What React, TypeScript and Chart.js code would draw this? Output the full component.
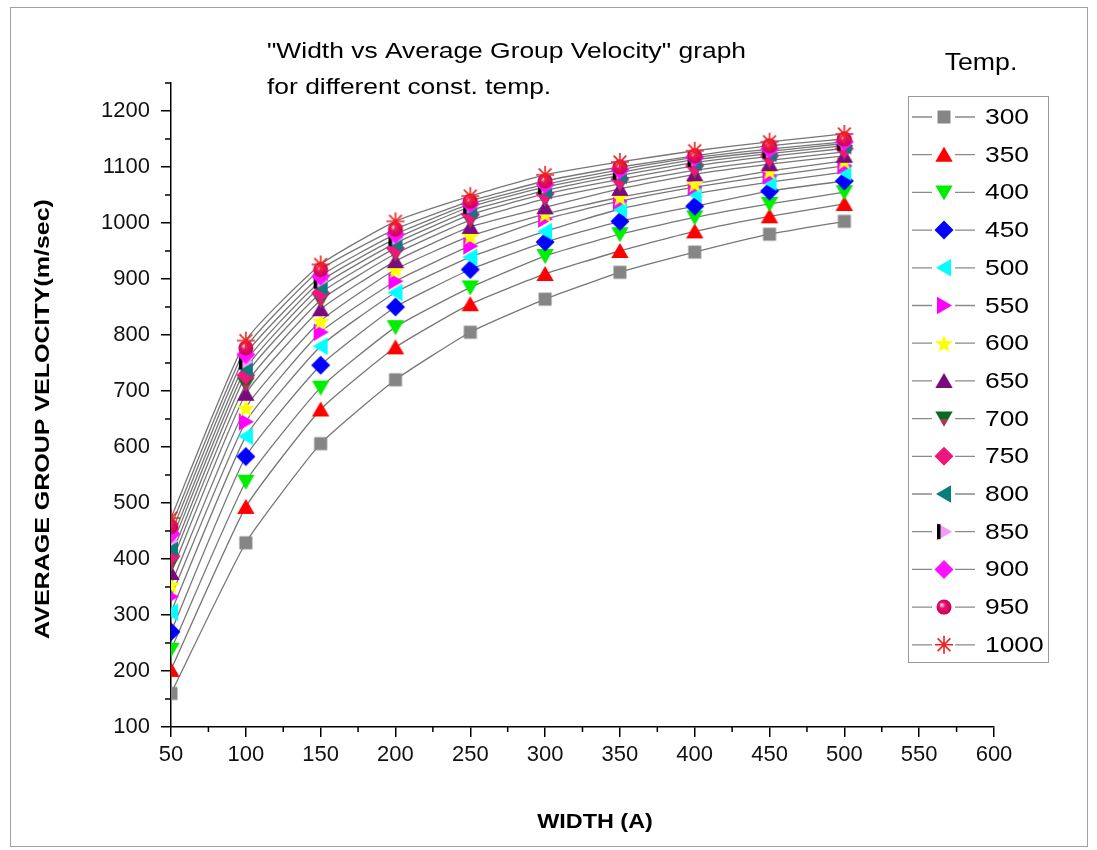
import React, { useEffect, useRef } from 'react';
import { Chart, registerables } from 'chart.js';

Chart.register(...registerables);

// ---------- DATA ----------
const widths = [50, 100, 150, 200, 250, 300, 350, 400, 450, 500];
const temps = ['300', '350', '400', '450', '500', '550', '600', '650', '700', '750', '800', '850', '900', '950', '1000'];

const v300 = [160, 429, 606, 720, 805, 864, 912, 948, 980, 1003];
const v350 = [202, 493, 667, 778, 855, 909, 950, 985, 1012, 1034];
const v400 = [238, 538, 706, 814, 885, 941, 980, 1010, 1034, 1055];
const v450 = [270, 583, 746, 850, 917, 966, 1003, 1030, 1057, 1075];
const v500 = [305, 619, 780, 876, 939, 985, 1025, 1052, 1073, 1091];
const v550 = [333, 645, 805, 896, 959, 1007, 1039, 1064, 1084, 1102];
const v600 = [354, 670, 825, 917, 977, 1016, 1046, 1070, 1093, 1111];
const v650 = [375, 695, 846, 932, 993, 1028, 1061, 1087, 1105, 1120];
const v700 = [392, 712, 862, 945, 1005, 1043, 1070, 1094, 1112, 1127];
const v750 = [405, 728, 875, 955, 1015, 1052, 1078, 1102, 1119, 1133];
const v800 = [420, 740, 886, 964, 1022, 1058, 1085, 1108, 1124, 1138];
const v850 = [432, 752, 896, 972, 1029, 1064, 1090, 1113, 1128, 1142];
const v900 = [445, 765, 905, 980, 1034, 1069, 1095, 1117, 1132, 1145];
const v950 = [458, 777, 917, 989, 1039, 1075, 1100, 1120, 1138, 1150];
const v1000 = [473, 790, 926, 1003, 1048, 1086, 1109, 1129, 1145, 1159];

const seriesValues = [v300, v350, v400, v450, v500, v550, v600, v650, v700, v750, v800, v850, v900, v950, v1000];

const xMin = 50;
const xMax = 600;
const xStep = 50;
const yMin = 100;
const yMax = 1250;
const yStep = 100;
const yLabelMax = 1200;

const titleLines = ['"Width vs Average Group Velocity" graph', 'for different const. temp.'];
const legendTitle = 'Temp.';
const xTitle = 'WIDTH (A)';
const yTitle = 'AVERAGE GROUP VELOCITY(m/sec)';

// ---------- STYLES ----------
const markerKinds = ['square', 'triUp', 'triDown', 'diamond', 'triLeft', 'triRight', 'star5', 'triUp', 'triDownDual', 'diamond', 'triLeft', 'triRightHalf', 'diamond', 'circle', 'asterisk'];
const markerColors = ['#858585', '#ff0000', '#00ee00', '#0000ff', '#00ffff', '#ff00ff', '#ffff00', '#7a0a80', '#0a6a1e', '#f0147c', '#0a7c7c', '#f49cf4', '#ff10ff', '#ea1070', '#ee2020'];

const FONT = '"Liberation Sans", Arial, Helvetica, sans-serif';

function drawMarker(ctx: CanvasRenderingContext2D, kind: string, color: string, x: number, y: number) {
  ctx.save();
  ctx.translate(x, y);
  ctx.fillStyle = color;
  ctx.strokeStyle = color;
  const poly = (pts: number[][], fill?: string) => {
    ctx.beginPath();
    ctx.moveTo(pts[0][0], pts[0][1]);
    for (let i = 1; i < pts.length; i++) ctx.lineTo(pts[i][0], pts[i][1]);
    ctx.closePath();
    if (fill) ctx.fillStyle = fill;
    ctx.fill();
  };
  switch (kind) {
    case 'square':
      ctx.fillRect(-6.5, -6.5, 13, 13);
      break;
    case 'triUp':
      poly([[0, -8], [8.7, 7], [-8.7, 7]]);
      break;
    case 'triDown':
      poly([[0, 8], [8.7, -7], [-8.7, -7]]);
      break;
    case 'triDownDual':
      poly([[0, 8], [8.7, -7], [-8.7, -7]]);
      poly([[0, 8], [4.2, 0.5], [-4.2, 0.5]], '#b8305a');
      break;
    case 'triLeft':
      poly([[-8, 0], [7, -8.7], [7, 8.7]]);
      break;
    case 'triRight':
      poly([[8, 0], [-7, -8.7], [-7, 8.7]]);
      break;
    case 'triRightHalf':
      poly([[8, 0], [-7, -8.7], [-7, 8.7]]);
      ctx.fillStyle = '#000';
      ctx.fillRect(-7, -7.5, 3.5, 15);
      break;
    case 'diamond':
      poly([[0, -9.5], [9.5, 0], [0, 9.5], [-9.5, 0]]);
      break;
    case 'star5': {
      const pts: number[][] = [];
      for (let i = 0; i < 10; i++) {
        const r = i % 2 === 0 ? 9.5 : 4;
        const a = -Math.PI / 2 + (i * Math.PI) / 5;
        pts.push([r * Math.cos(a), r * Math.sin(a) + 1]);
      }
      poly(pts);
      break;
    }
    case 'circle': {
      const g = ctx.createRadialGradient(-2.5, -2.5, 0.5, 0, 0, 8);
      g.addColorStop(0, '#ffd0e4');
      g.addColorStop(0.35, color);
      g.addColorStop(1, '#c00050');
      ctx.fillStyle = g;
      ctx.beginPath();
      ctx.arc(0, 0, 7.5, 0, Math.PI * 2);
      ctx.fill();
      break;
    }
    case 'asterisk': {
      ctx.lineWidth = 1.6;
      ctx.beginPath();
      for (let i = 0; i < 4; i++) {
        const a = (i * Math.PI) / 4;
        ctx.moveTo(-9 * Math.cos(a), -9 * Math.sin(a));
        ctx.lineTo(9 * Math.cos(a), 9 * Math.sin(a));
      }
      ctx.stroke();
      break;
    }
  }
  ctx.restore();
}

function makeMarkerCanvas(kind: string, color: string): HTMLCanvasElement {
  const c = document.createElement('canvas');
  c.width = 24;
  c.height = 24;
  const ctx = c.getContext('2d')!;
  drawMarker(ctx, kind, color, 12, 12);
  return c;
}

function stretchedText(
  ctx: CanvasRenderingContext2D,
  text: string,
  x: number,
  y: number,
  font: string,
  sx: number,
  align: CanvasTextAlign,
  rotate = false
) {
  ctx.save();
  ctx.translate(x, y);
  if (rotate) ctx.rotate(-Math.PI / 2);
  ctx.scale(sx, 1);
  ctx.font = font;
  ctx.textAlign = align;
  ctx.textBaseline = 'middle';
  ctx.fillStyle = '#000';
  ctx.fillText(text, 0, 0);
  ctx.restore();
}

const decorPlugin = {
  id: 'decor',
  beforeDraw(chart: any) {
    const ctx = chart.ctx as CanvasRenderingContext2D;
    ctx.save();
    ctx.fillStyle = '#ffffff';
    ctx.fillRect(0, 0, chart.width, chart.height);
    ctx.restore();
  },
  afterDraw(chart: any) {
    const ctx = chart.ctx as CanvasRenderingContext2D;
    const xs = chart.scales.x;
    const ys = chart.scales.y;
    const area = chart.chartArea;
    ctx.save();
    // minor ticks
    ctx.strokeStyle = '#000';
    ctx.lineWidth = 1.5;
    ctx.beginPath();
    for (let v = xMin + xStep / 2; v < xMax; v += xStep) {
      const px = xs.getPixelForValue(v);
      ctx.moveTo(px, area.bottom);
      ctx.lineTo(px, area.bottom + 5);
    }
    for (let v = yMin + yStep / 2; v <= yMax; v += yStep) {
      const py = ys.getPixelForValue(v);
      ctx.moveTo(area.left, py);
      ctx.lineTo(area.left - 6, py);
    }
    ctx.stroke();

    // title
    stretchedText(ctx, titleLines[0], 267, 52, `22px ${FONT}`, 1.2, 'left');
    stretchedText(ctx, titleLines[1], 267, 88, `22px ${FONT}`, 1.2, 'left');

    // axis titles
    stretchedText(ctx, xTitle, 595, 822, `bold 20px ${FONT}`, 1.17, 'center');
    stretchedText(ctx, yTitle, 43, 419, `bold 20px ${FONT}`, 1.25, 'center', true);

    // legend
    stretchedText(ctx, legendTitle, 981, 64, `23px ${FONT}`, 1.16, 'center');
    ctx.strokeStyle = '#9a9a9a';
    ctx.lineWidth = 1;
    ctx.strokeRect(908.5, 96.5, 140, 566);
    temps.forEach((t, i) => {
      const cy = 117 + i * 37.7;
      ctx.strokeStyle = '#8a8a8a';
      ctx.lineWidth = 1.3;
      ctx.beginPath();
      ctx.moveTo(912, cy);
      ctx.lineTo(932, cy);
      ctx.moveTo(955, cy);
      ctx.lineTo(975, cy);
      ctx.stroke();
      drawMarker(ctx, markerKinds[i], markerColors[i], 944, cy);
      stretchedText(ctx, t, 985, cy + 1, `22px ${FONT}`, 1.2, 'left');
    });

    // outer frame
    ctx.strokeStyle = '#a0a0a0';
    ctx.lineWidth = 1;
    ctx.strokeRect(10.5, 7.5, 1077, 839);
    ctx.restore();
  },
};

export default function App() {
  const canvasRef = useRef<HTMLCanvasElement | null>(null);

  useEffect(() => {
    if (!canvasRef.current) return;
    const markers = markerKinds.map((k, i) => makeMarkerCanvas(k, markerColors[i]));
    const lineSets = seriesValues.map((vals, i) => ({
      label: temps[i] + ' line',
      data: widths.map((w, j) => ({ x: w, y: vals[j] })),
      borderColor: '#777777',
      borderWidth: 1.3,
      pointRadius: 0,
      fill: false,
      tension: 0.15,
      order: 100,
    }));
    const pointSets = seriesValues.map((vals, i) => ({
      label: temps[i],
      data: widths.map((w, j) => ({ x: w, y: vals[j] })),
      showLine: false,
      pointStyle: markers[i],
      pointRadius: 9,
      backgroundColor: markerColors[i],
      borderColor: markerColors[i],
      order: 50 - i,
    }));

    const chart = new Chart(canvasRef.current, {
      type: 'line',
      data: { datasets: [...lineSets, ...pointSets] as any },
      plugins: [decorPlugin],
      options: {
        animation: false,
        responsive: false,
        devicePixelRatio: 1,
        events: [],
        layout: { padding: { top: 83, right: 103, bottom: 0, left: 0 } },
        plugins: {
          legend: { display: false },
          tooltip: { enabled: false },
          title: { display: false },
        },
        scales: {
          x: {
            type: 'linear',
            min: xMin,
            max: xMax,
            afterFit: (s: any) => {
              s.height = 123;
            },
            ticks: {
              stepSize: xStep,
              padding: 5,
              color: '#111',
              font: { family: FONT, size: 22 },
              maxRotation: 0,
              callback: (v: any) => String(v),
            },
            grid: {
              display: true,
              drawOnChartArea: false,
              drawTicks: true,
              tickLength: 10,
              color: '#000',
              lineWidth: 1.5,
            },
            border: { display: true, color: '#000', width: 1.5 },
          },
          y: {
            type: 'linear',
            min: yMin,
            max: yMax,
            afterFit: (s: any) => {
              s.width = 171;
            },
            afterBuildTicks: (s: any) => {
              s.ticks = s.ticks.filter((t: any) => t.value <= yLabelMax);
            },
            ticks: {
              stepSize: yStep,
              includeBounds: false,
              padding: 11,
              color: '#111',
              font: { family: FONT, size: 22 },
              callback: (v: any) => String(v),
            },
            grid: {
              display: true,
              drawOnChartArea: false,
              drawTicks: true,
              tickLength: 10,
              color: '#000',
              lineWidth: 1.5,
            },
            border: { display: true, color: '#000', width: 1.5 },
          },
        },
      } as any,
    });
    return () => chart.destroy();
  }, []);

  return (
    <div style={{ position: 'absolute', left: 0, top: 0, width: 1097, height: 850 }}>
      <canvas ref={canvasRef} width={1097} height={850} style={{ display: 'block', width: 1097, height: 850 }} />
    </div>
  );
}
